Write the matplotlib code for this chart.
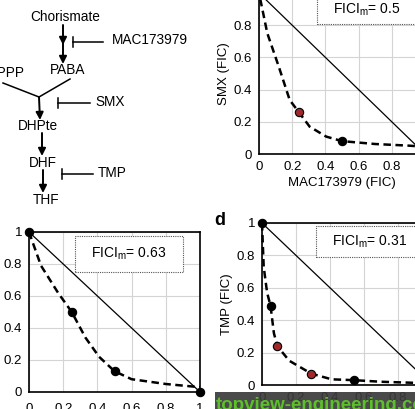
import matplotlib
matplotlib.use("Agg")
import matplotlib.pyplot as plt
from matplotlib.patches import Rectangle

plt.rcParams['font.family'] = ['Liberation Sans', 'DejaVu Sans']
plt.rcParams['mathtext.default'] = 'regular'

W, H = 415, 409

# ---------------- data ----------------
ticks = [0, 0.2, 0.4, 0.6, 0.8, 1]
tick_labels = ['0', '0.2', '0.4', '0.6', '0.8', '1']

# panel b : MAC173979 vs SMX
b_x = [0, 0.24, 0.5, 1]
b_y = [1, 0.26, 0.08, 0.04]
b_red = [False, True, False, False]
b_curve_x = [0, 0.05, 0.12, 0.185, 0.24, 0.305, 0.405, 0.5, 0.7, 0.9, 1]
b_curve_y = [1, 0.75, 0.54, 0.335, 0.26, 0.17, 0.108, 0.08, 0.062, 0.052, 0.045]
b_fici = 0.5

# panel c : (x cut off) vs (y cut off)
c_x = [0, 0.25, 0.5, 1]
c_y = [1, 0.5, 0.13, 0.0]
c_red = [False, False, False, False]
c_curve_x = [0, 0.07, 0.17, 0.25, 0.33, 0.41, 0.5, 0.6, 0.8, 1]
c_curve_y = [1, 0.79, 0.62, 0.5, 0.34, 0.22, 0.13, 0.08, 0.05, 0.03]
c_fici = 0.63

# panel d : (x cut off) vs TMP
d_x = [0, 0.05, 0.09, 0.29, 0.54]
d_y = [1, 0.49, 0.24, 0.07, 0.03]
d_red = [False, False, True, True, False]
d_curve_x = [0, 0.01, 0.03, 0.05, 0.07, 0.09, 0.16, 0.29, 0.41, 0.54, 0.7, 1]
d_curve_y = [1, 0.73, 0.57, 0.49, 0.32, 0.24, 0.15, 0.07, 0.035, 0.03, 0.02, 0.01]
d_fici = 0.31


def px_axes(fig, left, right, top, bottom):
    return fig.add_axes([left / W, 1 - bottom / H, (right - left) / W, (bottom - top) / H])


def fic_panel(ax, xs, ys, red, cx, cy, fici, box, ylabel=None, xlabel=None, xpad=5):
    ax.set_xlim(0, 1)
    ax.set_ylim(0, 1)
    ax.set_xticks(ticks)
    ax.set_yticks(ticks)
    ax.set_xticklabels(tick_labels)
    ax.set_yticklabels(tick_labels)
    ax.tick_params(length=0, pad=5, labelsize=9.5)
    ax.tick_params(axis='x', pad=xpad)
    ax.grid(True, color='#d4d4d4', lw=0.8)
    ax.set_axisbelow(True)
    for s in ax.spines.values():
        s.set_linewidth(1.2)
    ax.plot([0, 1], [1, 0], color='black', lw=0.9, zorder=2)
    ax.plot(cx, cy, color='black', lw=1.8, ls=(0, (3, 1.8)), zorder=3, clip_on=False)
    for x, y, r in zip(xs, ys, red):
        ax.plot(x, y, 'o', ms=6, mfc='#a3262a' if r else 'black', mec='black',
                mew=0.8, zorder=4, clip_on=False)
    bx, by, bw, bh = box
    ax.add_patch(Rectangle((bx, by), bw, bh, fc='white', ec='#555555', lw=0.8,
                           ls=(0, (1, 1)), zorder=5))
    ax.text(bx + bw / 2, by + bh / 2, 'FICI$_{m}$= %s' % fici, ha='center',
            va='center', fontsize=10, zorder=6)
    if ylabel:
        ax.set_ylabel(ylabel, fontsize=9.5, labelpad=3)
    if xlabel:
        ax.set_xlabel(xlabel, fontsize=9.5, labelpad=3)


fig = plt.figure(figsize=(W / 100, H / 100), dpi=100)

# ---------------- pathway diagram ----------------
dg = fig.add_axes([0, 0, 1, 1])
dg.set_xlim(0, W)
dg.set_ylim(H, 0)
dg.axis('off')
fs = 9.8
dg.text(65, 17, 'Chorismate', ha='center', va='center', fontsize=fs)
dg.text(68, 70, 'PABA', ha='center', va='center', fontsize=fs)
dg.text(25, 73, 'DHPPP', ha='right', va='center', fontsize=fs)
dg.text(38, 126, 'DHPte', ha='center', va='center', fontsize=fs)
dg.text(43, 163, 'DHF', ha='center', va='center', fontsize=fs)
dg.text(46, 200, 'THF', ha='center', va='center', fontsize=fs)
dg.text(112, 40, 'MAC173979', ha='left', va='center', fontsize=fs)
dg.text(95, 102, 'SMX', ha='left', va='center', fontsize=fs)
dg.text(98, 173, 'TMP', ha='left', va='center', fontsize=fs)

arr = dict(arrowstyle='-|>', color='black', lw=1.4, mutation_scale=11, shrinkA=0, shrinkB=0)
for (x0, y0), (x1, y1) in [((63, 25), (63, 45)), ((63, 43), (63, 64)),
                           ((39, 97), (40, 120)), ((42, 133), (42, 156)),
                           ((43, 170), (43, 193))]:
    dg.annotate('', xy=(x1, y1), xytext=(x0, y0), arrowprops=arr)
dg.plot([3, 39, 70], [83, 97, 79], color='black', lw=1.1)
# inhibition bars
for xb, yb, x2 in [(73, 42, 103), (58, 103, 90), (62, 174, 93)]:
    dg.plot([xb, xb], [yb - 5, yb + 5], color='black', lw=1.1)
    dg.plot([xb, x2], [yb, yb], color='black', lw=1.1)

# ---------------- FIC panels ----------------
ax_b = px_axes(fig, 259, 425, -7, 154)
fic_panel(ax_b, b_x, b_y, b_red, b_curve_x, b_curve_y, b_fici,
          (0.35, 0.81, 0.6, 0.17), ylabel='SMX (FIC)', xlabel='MAC173979 (FIC)')

ax_c = px_axes(fig, 29, 200, 232, 392)
fic_panel(ax_c, c_x, c_y, c_red, c_curve_x, c_curve_y, c_fici,
          (0.27, 0.75, 0.63, 0.225), xpad=8)

ax_d = px_axes(fig, 262, 432, 223, 385)
fic_panel(ax_d, d_x, d_y, d_red, d_curve_x, d_curve_y, d_fici,
          (0.32, 0.79, 0.62, 0.19), ylabel='TMP (FIC)')
fig.text(220 / W, 1 - 220 / H, 'd', fontsize=13, fontweight='bold', ha='center', va='center')

# watermark band
fig.patches.append(Rectangle((215 / W, 0), 200 / W, 17 / H, transform=fig.transFigure,
                             fc='#3a3a3a', alpha=0.92, zorder=10))
fig.text(216 / W, 1 - 406 / H, 'topview-engineering.com', color='#5cc02a', fontsize=13.5,
         fontweight='bold', ha='left', va='center', zorder=11)

fig.savefig('out.png', dpi=100)
